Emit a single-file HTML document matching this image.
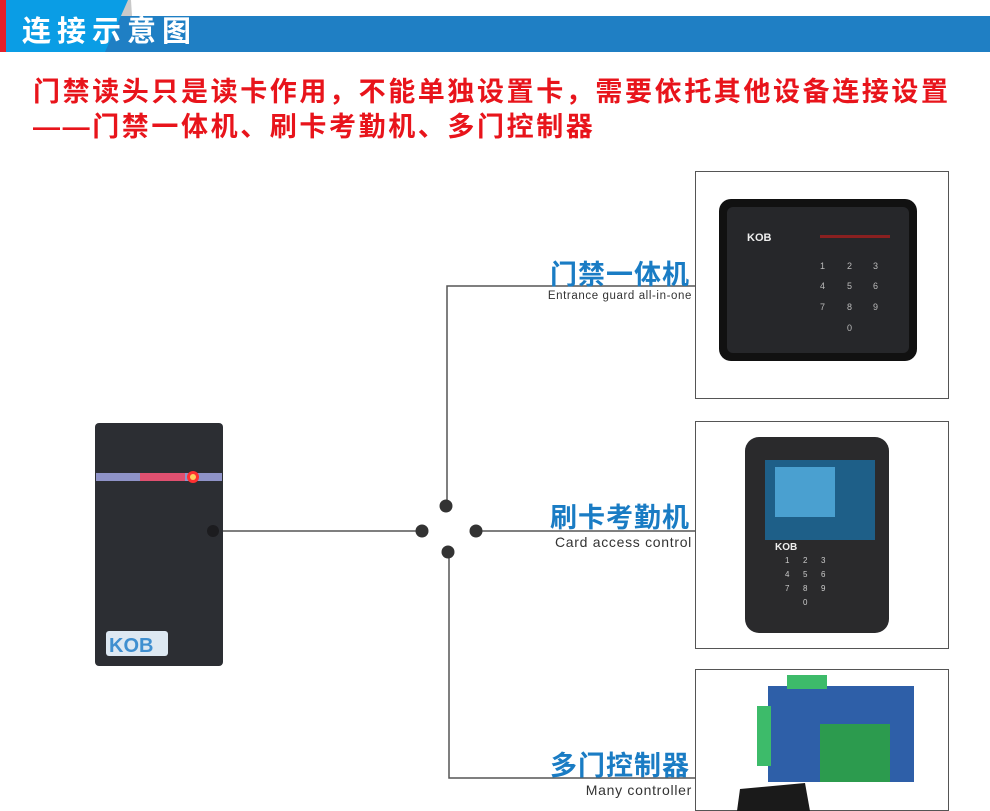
<!DOCTYPE html>
<html><head><meta charset="utf-8"><style>
body{margin:0;width:990px;height:794px;overflow:hidden;background:#fff;position:relative;font-family:"Liberation Sans","Noto Sans CJK SC",sans-serif}
.a{position:absolute}
.t{color:#e8141b;font-weight:bold;font-size:27px;left:33px;letter-spacing:2.6px;white-space:nowrap;line-height:30px}
.cn{color:#1a7cc4;font-weight:bold;font-size:27px;right:300px;white-space:nowrap;text-align:right;letter-spacing:1px}
.en{color:#333;white-space:nowrap;right:298px}
.box{border:1.5px solid #555;background:#fff}
</style></head><body>
<svg class="a" style="left:0;top:0" width="990" height="794">
<polygon points="121,0 131,0 132,16 118,16" fill="#c9c9c9"/>
<rect x="105" y="16" width="885" height="36" fill="#1f7fc4"/>
<polygon points="0,0 128,0 105,52 0,52" fill="#0a9de5"/>
<rect x="0" y="0" width="6" height="52" fill="#e4202a"/>
<text x="22" y="41" font-size="29" font-weight="bold" fill="#fff" letter-spacing="6" font-family="Liberation Sans,Noto Sans CJK SC,sans-serif">连接示意图</text>
<g stroke="#555" stroke-width="1.5" fill="none">
<line x1="213" y1="531" x2="420" y2="531"/>
<polyline points="447,505 447,286 696,286"/>
<line x1="476" y1="531" x2="696" y2="531"/>
<polyline points="449,553 449,778 696,778"/>
</g>
<g fill="#333"><circle cx="422" cy="531" r="6.5"/><circle cx="446" cy="506" r="6.5"/><circle cx="476" cy="531" r="6.5"/><circle cx="448" cy="552" r="6.5"/></g>
<rect x="95" y="423" width="128" height="243" rx="4" fill="#2c2e33"/>
<rect x="96" y="473" width="126" height="8" fill="#8f93c8"/>
<rect x="140" y="473" width="45" height="8" fill="#e05070"/>
<circle cx="193" cy="477" r="6" fill="#ff3030"/><circle cx="193" cy="477" r="3" fill="#ffd060"/>
<circle cx="213" cy="531" r="6" fill="#1c1c1f"/>
<rect x="106" y="631" width="62" height="25" rx="3" fill="#dde8f2"/>
<text x="109" y="652" font-size="20" font-weight="bold" fill="#3f8fd0" font-family="Liberation Sans,sans-serif">KOB</text>
</svg>
<div class="a t" style="top:77px">门禁读头只是读卡作用，不能单独设置卡，需要依托其他设备连接设置</div>
<div class="a t" style="top:112px">——门禁一体机、刷卡考勤机、多门控制器</div>
<div class="a cn" style="top:253px">门禁一体机</div>
<div class="a en" style="top:290px;font-size:11.5px;letter-spacing:0.6px">Entrance guard all-in-one</div>
<div class="a cn" style="top:496px">刷卡考勤机</div>
<div class="a en" style="top:534px;font-size:14px;letter-spacing:0.7px">Card access control</div>
<div class="a cn" style="top:744px">多门控制器</div>
<div class="a en" style="top:782px;font-size:14px;letter-spacing:0.7px">Many controller</div>
<div class="a box" style="left:695px;top:171px;width:252px;height:226px"></div>
<div class="a box" style="left:695px;top:421px;width:252px;height:226px"></div>
<div class="a box" style="left:695px;top:669px;width:252px;height:140px"></div>
<svg class="a" style="left:695px;top:171px" width="254" height="640">
<rect x="24" y="28" width="198" height="162" rx="12" fill="#111"/>
<rect x="32" y="36" width="182" height="146" rx="6" fill="#26272a"/>
<text x="52" y="70" font-size="11" font-weight="bold" fill="#eee" font-family="Liberation Sans,sans-serif">KOB</text>
<rect x="125" y="64" width="70" height="3" fill="#8a2020"/>
<g fill="#bbb" font-size="9" font-family="Liberation Sans,sans-serif"><text x="125" y="98">1</text><text x="152" y="98">2</text><text x="178" y="98">3</text><text x="125" y="118">4</text><text x="152" y="118">5</text><text x="178" y="118">6</text><text x="125" y="139">7</text><text x="152" y="139">8</text><text x="178" y="139">9</text><text x="152" y="160">0</text></g>
<rect x="50" y="266" width="144" height="196" rx="14" fill="#2a2a2c"/>
<rect x="70" y="289" width="110" height="80" fill="#1e5f88"/>
<rect x="80" y="296" width="60" height="50" fill="#4aa0d0"/>
<text x="80" y="379" font-size="10" font-weight="bold" fill="#eee" font-family="Liberation Sans,sans-serif">KOB</text>
<g fill="#ccc" font-size="8" font-family="Liberation Sans,sans-serif"><text x="90" y="392">1</text><text x="108" y="392">2</text><text x="126" y="392">3</text><text x="90" y="406">4</text><text x="108" y="406">5</text><text x="126" y="406">6</text><text x="90" y="420">7</text><text x="108" y="420">8</text><text x="126" y="420">9</text><text x="108" y="434">0</text></g>
<rect x="73" y="515" width="146" height="96" fill="#2e5fa8"/>
<rect x="125" y="553" width="70" height="58" fill="#2c9b4e"/>
<rect x="62" y="535" width="14" height="60" fill="#3dbb6a"/>
<rect x="92" y="504" width="40" height="14" fill="#3dbb6a"/>
<polygon points="45,618 110,612 115,640 42,640" fill="#1a1a1a"/>
</svg>
</body></html>
